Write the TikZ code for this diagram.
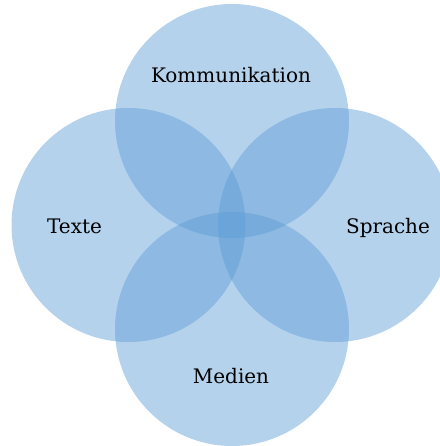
\documentclass[tikz,border=0pt]{standalone}
\usepackage{fontspec}
\setmainfont{DejaVu Serif}
\definecolor{vennblue}{RGB}{91,155,213}
\tikzset{
  venn/.style={fill=vennblue, fill opacity=0.45, draw=none},
  lbl/.style={font=\fontsize{20}{24}\selectfont, text=black, inner sep=0pt}
}
\begin{document}
\begin{tikzpicture}[x=1pt,y=1pt]
\useasboundingbox (0,0) rectangle (439,446);
\fill[venn] (232,325) circle (117);
\fill[venn] (128.5,221) circle (117);
\fill[venn] (335,221) circle (117);
\fill[venn] (232,117) circle (117);
\node[lbl] (komm) at (231,371) {Kommunikation};
\node[lbl] (texte) at (74.5,220) {Texte};
\node[lbl] (sprache) at (388,218) {Sprache};
\node[lbl] (medien) at (231,70) {Medien};
\end{tikzpicture}
\end{document}
